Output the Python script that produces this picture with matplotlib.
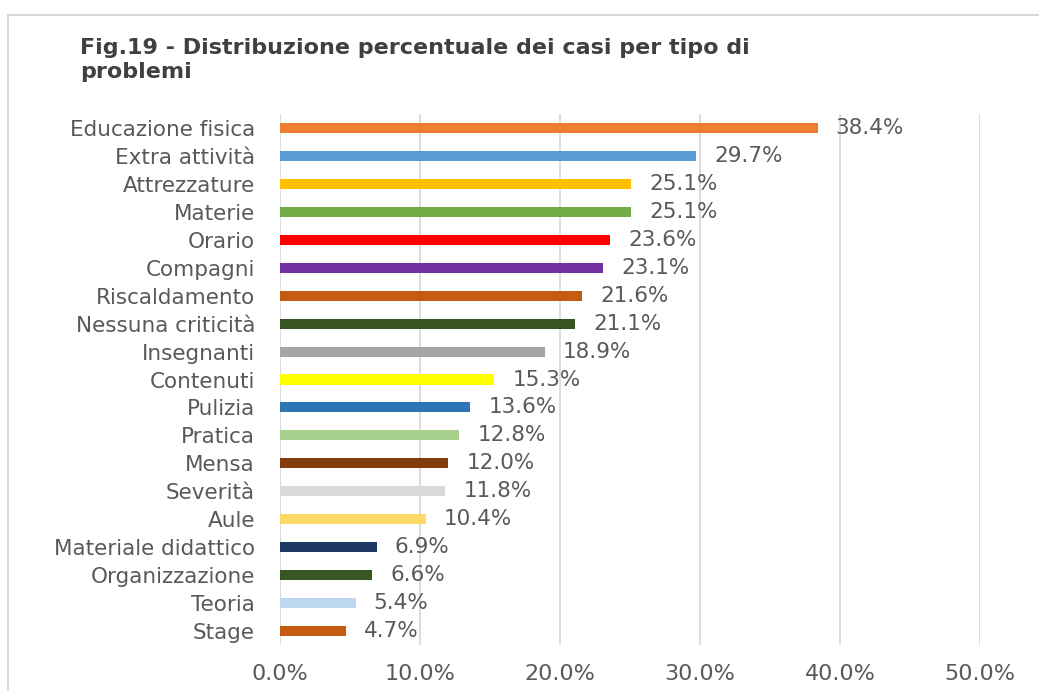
import matplotlib
matplotlib.use("Agg")
import matplotlib.pyplot as plt
from matplotlib.patches import Rectangle
from matplotlib.ticker import FuncFormatter

categories = ["Educazione fisica", "Extra attività", "Attrezzature", "Materie", "Orario",
              "Compagni", "Riscaldamento", "Nessuna criticità", "Insegnanti", "Contenuti",
              "Pulizia", "Pratica", "Mensa", "Severità", "Aule", "Materiale didattico",
              "Organizzazione", "Teoria", "Stage"]
values = [38.4, 29.7, 25.1, 25.1, 23.6, 23.1, 21.6, 21.1, 18.9, 15.3,
          13.6, 12.8, 12.0, 11.8, 10.4, 6.9, 6.6, 5.4, 4.7]
colors = ["#ED7D31", "#5B9BD5", "#FFC000", "#70AD47", "#FF0000", "#7030A0", "#C55A11",
          "#375623", "#A5A5A5", "#FFFF00", "#2E75B6", "#A9D18E", "#843C0C", "#D9D9D9",
          "#FFD966", "#203864", "#385723", "#BDD7EE", "#C55A11"]
xticks = [0, 10, 20, 30, 40, 50]

plt.rcParams['font.family'] = ['DejaVu Sans']
fig = plt.figure(figsize=(10.39, 6.91), dpi=100)
fig.patch.set_facecolor("white")
fig.patches.append(Rectangle((8/1039, -0.05), 1.1, 1 - 15/691 + 0.05,
                             transform=fig.transFigure, fill=False,
                             edgecolor="#D9D9D9", linewidth=1.5))

ax = fig.add_axes([280/1039, 1 - 645/691, 700/1039, 531/691])
pos = list(range(len(categories)))
ax.barh(pos, values, height=0.36, color=colors, zorder=3)
for p, v in zip(pos, values):
    ax.text(v + 1.3, p, f"{v:.1f}%", va="center", ha="left", fontsize=15.5,
            color="#595959", zorder=4)

ax.set_ylim(len(categories) - 0.5, -0.5)
ax.set_xlim(0, 50)
ax.set_xticks(xticks)
ax.xaxis.set_major_formatter(FuncFormatter(lambda x, _: f"{x:.1f}%"))
ax.set_yticks(pos)
ax.set_yticklabels(categories)
ax.tick_params(axis="x", length=0, pad=14, labelsize=16, labelcolor="#595959")
ax.tick_params(axis="y", length=0, pad=18, labelsize=15.5, labelcolor="#595959")
ax.grid(axis="x", color="#D9D9D9", linewidth=1.3, zorder=0)
for s in ax.spines.values():
    s.set_visible(False)

fig.text(80/1039, 1 - 60/691, "Fig.19 - Distribuzione percentuale dei casi per tipo di\nproblemi",
         ha="left", va="center", fontsize=16, fontweight="bold", color="#404040",
         linespacing=1.25)

fig.savefig("out.png", dpi=100)
